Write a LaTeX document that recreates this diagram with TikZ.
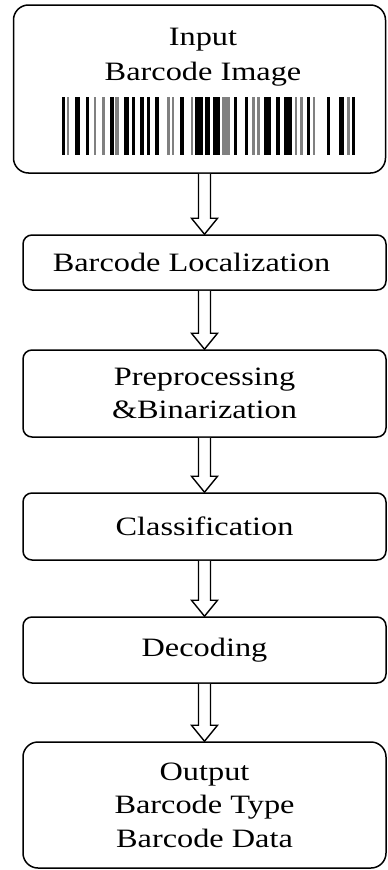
\documentclass[tikz,border=0pt]{standalone}
\usepackage{fontspec}
\setmainfont{Liberation Serif}[FakeStretch=1.22]
\usepackage{xcolor}
\usetikzlibrary{positioning, calc}

\begin{document}
\begin{tikzpicture}[x=1pt, y=-1pt,
        stage/.style={draw, line width=1.5pt, rounded corners=9pt, minimum width=363pt,
            align=center, inner sep=0pt, font=\fontsize{26.5}{33.5}\selectfont},
        hollow/.style={line width=1.4pt, fill=white, line join=miter}]
        \useasboundingbox (0, 0) rectangle (388, 870);

        % input box with the barcode
        \node[stage, rounded corners=15pt, minimum width=372pt, minimum height=168pt] (inbox) at (199.5, 89) {};
        \node[font=\fontsize{26.5}{35}\selectfont, align=center, inner sep=0pt] (intext) at (203, 57) {Input\\Barcode Image};
        \foreach \a/\b/\c in {62/65/black, 66.5/68.5/gray, 75/80/black, 85.5/89/black, 93.5/95.5/gray,
                101.5/104.5/gray, 109.5/113.5/black, 115/118.5/gray, 123.5/129/black, 131.5/135/black,
                140/143.5/black, 146.5/150/black, 155/159/black, 166.5/170/gray, 171.5/173.5/gray,
                180/183.5/black, 191/193/gray, 195/202.5/black, 205/210/black, 213/220/black,
                221.5/230/gray, 233.5/236.5/black, 245/247.5/black, 251.5/255/gray, 256.5/259.5/gray,
                263.5/270.5/black, 276/280/black, 283.5/291.5/black, 295/297/gray, 300/302.5/gray,
                306.5/309.5/black, 313/315/gray, 326.5/330/black, 338.5/343.5/black, 346.5/350/gray,
                351.5/355/black} {
            \fill[\c] (\a, 97) rectangle (\b, 155);
        }

        \node[stage, minimum height=55pt] (loc) at (204.5, 262.5) {Barcode Localization\hspace*{26pt}};
        \node[stage, minimum height=87pt] (prep) at (204.5, 393.5) {Preprocessing\\\&Binarization};
        \node[stage, minimum height=67pt] (cls) at (204.5, 526.5) {Classification};
        \node[stage, minimum height=66pt] (dec) at (204.5, 650) {Decoding};
        \node[stage, rounded corners=15pt, minimum height=126pt] (out) at (204.5, 805) {Output\\Barcode Type\\Barcode Data};

        \foreach \a/\b in {inbox/loc, loc/prep, prep/cls, cls/dec, dec/out} {
            \draw[hollow] let \p1 = (\a.south), \p2 = (\b.north) in
                (\x2-6, \y1) -- (\x2-6, \y2+16) -- (\x2-13, \y2+16) -- (\x2, \y2)
                -- (\x2+13, \y2+16) -- (\x2+6, \y2+16) -- (\x2+6, \y1);
        }
    \end{tikzpicture}
\end{document}
